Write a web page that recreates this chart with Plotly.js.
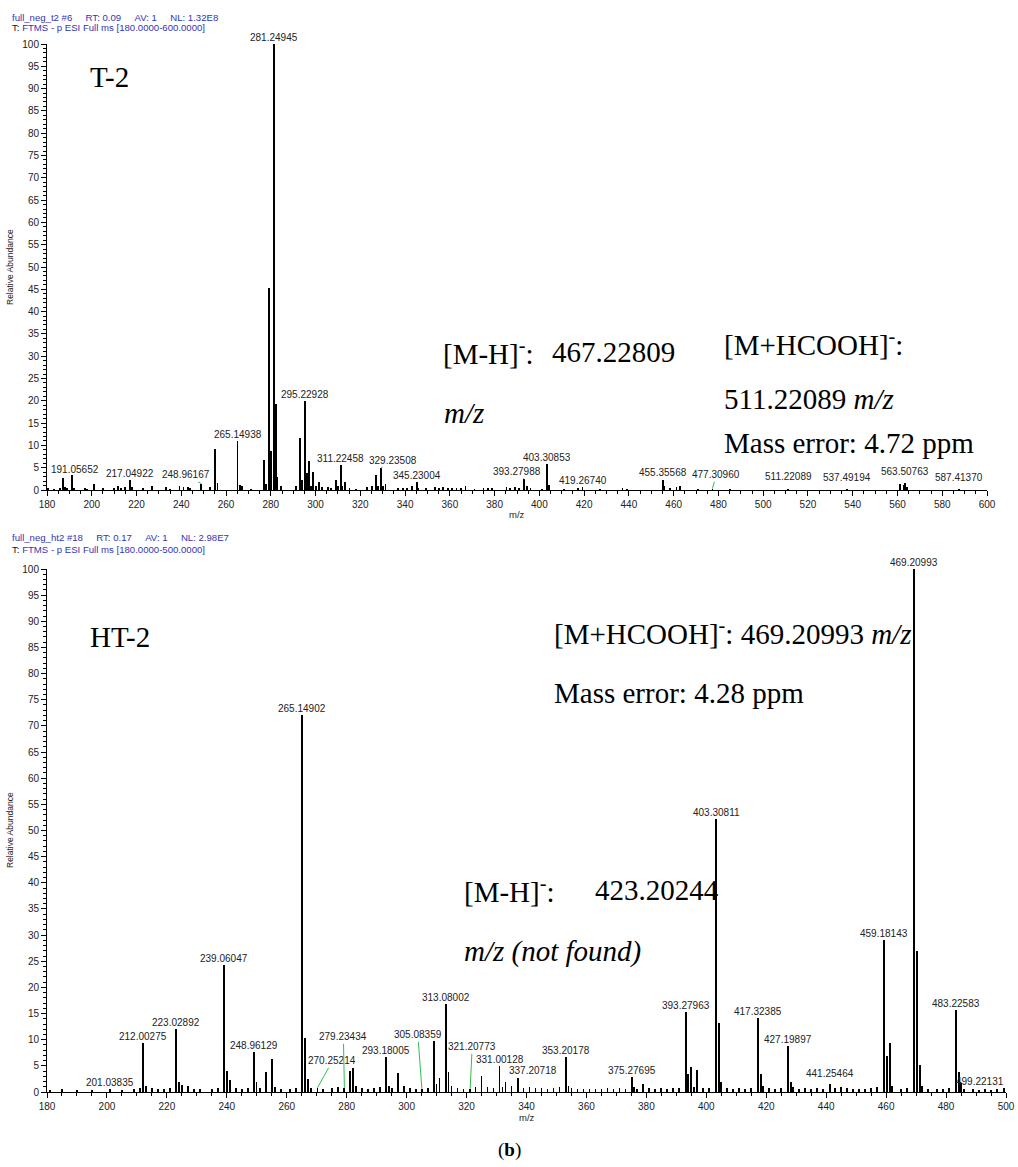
<!DOCTYPE html>
<html><head><meta charset="utf-8">
<script src="https://cdn.plot.ly/plotly-3.0.1.min.js"></script>
<style>html,body{margin:0;padding:0;background:#fff}#chart{width:1018px;height:1167px}</style>
</head><body><div id="chart"></div><script>
// ---------- T-2 spectrum (top) ----------
const t2Mz = [180.5,183.0,185.9,187.0,187.9,188.9,191.05652,192.0,197.0,198.0,200.9,205.0,209.9,211.9,213.0,214.9,217.04922,218.0,222.9,226.9,233.0,235.0,239.2,241.0,243.0,244.0,248.96167,253.0,255.2,256.2,265.14938,266.15,267.1,271.0,276.9,278.0,279.23,280.2,281.24945,282.25,283.0,284.7,291.1,293.2,294.1,295.22928,296.2,297.2,298.1,298.9,300.3,301.4,303.0,305.4,307.0,309.0,310.0,311.22458,312.0,313.0,315.2,318.0,322.9,325.2,327.1,328.0,329.23508,330.1,331.2,336.7,339.0,341.0,343.0,345.23004,346.0,349.5,353.2,355.0,357.0,359.0,361.0,363.0,365.0,367.0,371.0,375.0,377.0,379.0,385.3,387.0,389.0,391.0,393.27988,394.5,396.0,401.0,403.30853,404.2,411.0,417.2,419.2674,427.0,437.1,439.0,455.35568,455.9,458.3,461.3,462.8,471.0,477.3096,485.0,511.22089,537.49194,561.2,562.7,563.50763,564.4,587.4137];
const t2Int = [0.4,0.3,0.5,2.6,0.7,0.5,3.4,0.4,0.4,0.3,1.4,0.5,0.4,0.8,0.4,0.6,2.2,0.6,0.4,0.8,0.7,0.3,0.8,0.6,0.7,0.4,1.4,0.7,9.2,1.5,10.9,1.2,0.8,0.3,6.8,1.4,45.3,8.8,100,19.3,2.9,0.8,0.8,11.7,2.2,20,3.9,6.5,1.0,4.0,1.0,1.8,0.7,0.6,0.5,2.3,0.8,5.6,1.0,1.9,0.5,0.3,0.7,1.0,3.4,0.8,4.9,1.0,1.4,0.5,0.4,0.4,0.8,1.9,0.4,0.4,0.7,0.5,0.7,0.4,0.4,0.5,0.4,0.8,0.3,0.5,0.5,0.4,0.6,0.5,0.7,0.4,2.4,0.8,0.4,0.3,5.8,1.1,0.3,0.5,0.7,0.2,0.4,0.3,2.2,0.9,0.5,0.6,0.9,0.2,0.3,0.2,0.3,0.2,1.4,1.2,1.5,0.6,0.2];
const t2Labels = ['191.05652','217.04922','248.96167','265.14938','281.24945','295.22928','311.22458','329.23508','345.23004','393.27988','403.30853','419.26740','455.35568','477.30960','511.22089','537.49194','563.50763','587.41370'];

// ---------- HT-2 spectrum (bottom) ----------
const ht2Mz = [181.0,185.0,190.0,195.0,201.03835,205.0,209.0,211.0,212.00275,213.0,215.0,217.0,219.0,221.0,223.02892,224.0,225.0,227.0,229.0,231.0,235.0,237.0,239.06047,240.06,241.0,243.0,245.0,247.0,248.96129,249.9,251.0,253.0,255.0,256.0,258.0,261.0,263.0,265.14902,266.15,267.15,268.0,270.25214,272.0,275.0,277.0,279.23434,281.0,282.0,283.0,285.0,287.0,289.0,291.0,293.18005,294.0,295.0,297.0,299.0,301.0,303.0,305.08359,307.0,309.0,310.0,311.0,313.08002,314.0,315.0,317.0,319.0,321.20773,323.0,325.0,327.0,329.0,331.00128,332.0,333.0,335.0,337.20718,339.0,341.0,343.0,345.0,347.0,349.0,351.0,353.20178,354.0,355.0,357.0,359.0,361.0,363.0,365.0,367.0,369.0,371.0,373.0,375.27695,376.0,377.0,379.0,381.0,383.0,385.0,387.0,389.0,391.0,393.27963,394.0,395.0,396.0,397.0,399.0,401.0,403.30811,404.31,405.0,407.0,409.0,411.0,413.0,415.0,417.32385,418.3,419.0,421.0,423.0,425.0,427.19897,428.2,429.0,431.0,433.0,435.0,437.0,439.0,441.25464,443.0,445.0,447.0,449.0,451.0,453.0,455.0,457.0,459.18143,460.18,461.19,462.0,465.0,467.0,469.20993,470.21,471.21,472.0,474.0,477.0,479.0,481.0,483.22583,484.23,485.0,486.0,489.0,491.0,493.0,495.0,497.0,499.22131];
const ht2Int = [0.4,0.5,0.3,0.4,0.6,0.4,0.5,0.8,9.4,1.2,0.8,0.6,0.5,0.7,12.0,2.0,1.3,1.2,0.6,0.5,0.6,0.8,24.3,4.0,2.2,0.8,0.6,0.7,7.7,2.0,0.8,3.8,6.3,1.0,0.6,0.5,0.7,72,10.3,2.5,0.8,0.8,0.5,0.7,1.0,0.8,4.0,4.6,1.2,0.8,0.6,0.8,1.0,6.7,1.2,0.8,3.6,1.2,0.8,0.6,0.6,0.8,9.8,1.5,2.7,16.8,3.8,1.2,0.8,0.6,0.6,1.0,3.0,1.0,0.8,5.0,1.0,2.0,1.2,2.7,0.8,1.0,0.7,0.8,0.6,0.8,1.0,6.7,1.2,0.8,0.6,0.5,0.6,0.5,0.6,0.8,0.6,0.8,0.6,2.9,1.0,0.6,1.5,0.7,0.6,0.8,0.6,0.8,0.7,15.3,3.4,4.8,1.0,4.2,0.8,0.8,52.2,13.2,2.0,0.8,0.6,0.7,0.6,0.8,14.2,3.4,1.2,0.7,0.6,0.7,8.8,2.0,1.0,0.6,0.7,0.5,0.8,0.6,1.6,0.7,1.0,0.8,0.6,0.5,0.6,0.7,1.0,29,6.9,9.4,1.2,0.6,0.8,100,27,5.2,1.2,0.6,0.5,0.6,0.8,15.7,3.8,1.8,0.6,0.5,0.4,0.5,0.4,0.6,0.8];
const ht2Labels = ['201.03835','212.00275','223.02892','239.06047','248.96129','265.14902','270.25214','279.23434','293.18005','305.08359','313.08002','321.20773','331.00128','337.20718','353.20178','375.27695','393.27963','403.30811','417.32385','427.19897','441.25464','459.18143','469.20993','483.22583','499.22131'];

// ---------- layout helpers (pixel geometry) ----------
const W = 1018, H = 1167, ML = 47, MR = 12, MT = 44, MB = 75;
const PW = W - ML - MR, PH = H - MT - MB;
const px2x = p => (p - ML) / PW;
const py2y = p => (H - MB - p) / PH;

const LABEL_FONT = {family: 'Liberation Sans, Arial, sans-serif', size: 10, color: '#222'};
const SERIF = 'Liberation Serif, Times New Roman, serif';
const GREEN = '#2fbf4f';

const t2Offsets = {
  '191.05652': {xs: 3, gap: 5},
  '248.96167': {ax: -15, ay: -9},
  '329.23508': {ax: 12, ay: -8},
  '393.27988': {ax: -7, ay: -8},
  '477.30960': {ax: 4, ay: -14},
  '455.35568': {gap: 8},
  '511.22089': {gap: 12}, '537.49194': {gap: 12}, '563.50763': {gap: 12}, '587.41370': {gap: 12}
};
const ht2Offsets = {
  '270.25214': {ax: 15, ay: -27},
  '279.23434': {ax: -1, ay: -51},
  '305.08359': {ax: -4, ay: -54},
  '321.20773': {ax: 2, ay: -42},
  '337.20718': {ax: 15, ay: -7},
  '499.22131': {ax: -24, ay: -6},
  '441.25464': {gap: 10}
};

function peakLabels(mzArr, intArr, labels, offsets, xref, yref) {
  return labels.map(lbl => {
    const m = parseFloat(lbl);
    const i = mzArr.findIndex(v => Math.abs(v - m) < 1e-4);
    const o = offsets[lbl] || {};
    const base = {x: m, y: intArr[i], xref: xref, yref: yref, text: lbl, font: LABEL_FONT};
    if (o.ax !== undefined) {
      return Object.assign(base, {showarrow: true, ax: o.ax, ay: o.ay, arrowhead: 0, arrowwidth: 1,
        arrowcolor: GREEN, standoff: 0, startstandoff: 0});
    }
    return Object.assign(base, {showarrow: false, xanchor: 'center', yanchor: 'middle',
      yshift: (o.gap !== undefined ? o.gap : 6.5), xshift: o.xs || 0});
  });
}

function paperText(text, xpx, ypx, font, xanchor, extra) {
  return Object.assign({xref: 'paper', yref: 'paper', x: px2x(xpx), y: py2y(ypx), text: text,
    showarrow: false, xanchor: xanchor || 'left', yanchor: 'middle', font: font}, extra || {});
}

const HDR = {family: 'Liberation Sans, Arial, sans-serif', size: 9.6, color: '#3434b4'};
const BIG = {family: SERIF, size: 29, color: '#000'};
const sp = n => '\u00a0'.repeat(n);
const AX_FONT = {family: 'Liberation Sans, Arial, sans-serif', size: 8.5, color: '#222'};

const annotations = [].concat(
  peakLabels(t2Mz, t2Int, t2Labels, t2Offsets, 'x', 'y'),
  peakLabels(ht2Mz, ht2Int, ht2Labels, ht2Offsets, 'x2', 'y2'),
  [
    paperText('full_neg_t2 #6' + sp(5) + 'RT: 0.09' + sp(5) + 'AV: 1' + sp(5) + 'NL: 1.32E8', 10, 17, HDR),
    paperText('<span style="color:#111">T:</span> FTMS - p ESI Full ms [180.0000-600.0000]', 10, 28, HDR),
    paperText('full_neg_ht2 #18' + sp(5) + 'RT: 0.17' + sp(5) + 'AV: 1' + sp(5) + 'NL: 2.98E7', 10, 537, HDR),
    paperText('<span style="color:#111">T:</span> FTMS - p ESI Full ms [180.0000-500.0000]', 10, 549, HDR),
    paperText('Relative Abundance', 10, 267, AX_FONT, 'center', {textangle: -90}),
    paperText('Relative Abundance', 10, 830, AX_FONT, 'center', {textangle: -90}),
    paperText('m/z', 517, 514, {family: 'Liberation Sans, Arial, sans-serif', size: 9.5, color: '#222'}, 'center'),
    paperText('m/z', 527, 1117, {family: 'Liberation Sans, Arial, sans-serif', size: 9.5, color: '#222'}, 'center'),
    // big serif annotations – top
    paperText('T-2', 88, 77, BIG),
    paperText('[M-H]<sup>-</sup>:', 441, 352, BIG),
    paperText('467.22809', 550, 352, BIG),
    paperText('<i>m/z</i>', 442, 413, BIG),
    paperText('[M+HCOOH]<sup>-</sup>:', 722, 343, BIG),
    paperText('511.22089 <i>m/z</i>', 722, 399, BIG),
    paperText('Mass error: 4.72 ppm', 722, 443, BIG),
    // big serif annotations – bottom
    paperText('HT-2', 88, 637, BIG),
    paperText('[M+HCOOH]<sup>-</sup>: 469.20993 <i>m/z</i>', 552, 632, BIG),
    paperText('Mass error: 4.28 ppm', 552, 693, BIG),
    paperText('[M-H]<sup>-</sup>:', 462, 890, BIG),
    paperText('423.20244', 593, 890, BIG),
    paperText('<i>m/z (not found)</i>', 462, 952, BIG),
    paperText('(<b>b</b>)', 509, 1150, {family: SERIF, size: 19, color: '#000'}, 'center')
  ]
);

const axisCommon = {
  showline: true, linecolor: '#000', linewidth: 1, ticks: 'outside', ticklen: 5, tickwidth: 1,
  tickcolor: '#000', showgrid: false, zeroline: false, fixedrange: true,
  tickfont: {family: 'Liberation Sans, Arial, sans-serif', size: 10, color: '#222'}
};
const xAxisBase = Object.assign({}, axisCommon, {dtick: 20, tick0: 0,
  minor: {dtick: 5, ticks: 'outside', ticklen: 3, tickcolor: '#000', tickwidth: 1, showgrid: false}});
const yAxisBase = Object.assign({}, axisCommon, {dtick: 5, tick0: 0, range: [0, 100], ticklen: 5,
  minor: {dtick: 1, ticks: 'outside', ticklen: 3, tickcolor: '#000', tickwidth: 1, showgrid: false}});

const data = [
  {type: 'bar', x: t2Mz, y: t2Int, xaxis: 'x', yaxis: 'y', width: 1.8 / 2.237,
   marker: {color: '#000', line: {width: 0}}, hoverinfo: 'skip'},
  {type: 'bar', x: ht2Mz, y: ht2Int, xaxis: 'x2', yaxis: 'y2', width: 1.8 / 2.994,
   marker: {color: '#000', line: {width: 0}}, hoverinfo: 'skip'}
];

const layout = {
  width: W, height: H, margin: {l: ML, r: MR, t: MT, b: MB},
  paper_bgcolor: '#fff', plot_bgcolor: '#fff', showlegend: false, bargap: 0,
  xaxis: Object.assign({}, xAxisBase, {domain: [0, (987 - ML) / PW], range: [180, 600], anchor: 'y'}),
  yaxis: Object.assign({}, yAxisBase, {domain: [py2y(490), 1], anchor: 'x'}),
  xaxis2: Object.assign({}, xAxisBase, {domain: [0, 1], range: [180, 500], anchor: 'y2'}),
  yaxis2: Object.assign({}, yAxisBase, {domain: [0, py2y(569)], anchor: 'x2'}),
  annotations: annotations
};

Plotly.newPlot('chart', data, layout, {displayModeBar: false, staticPlot: true});
</script></body></html>
